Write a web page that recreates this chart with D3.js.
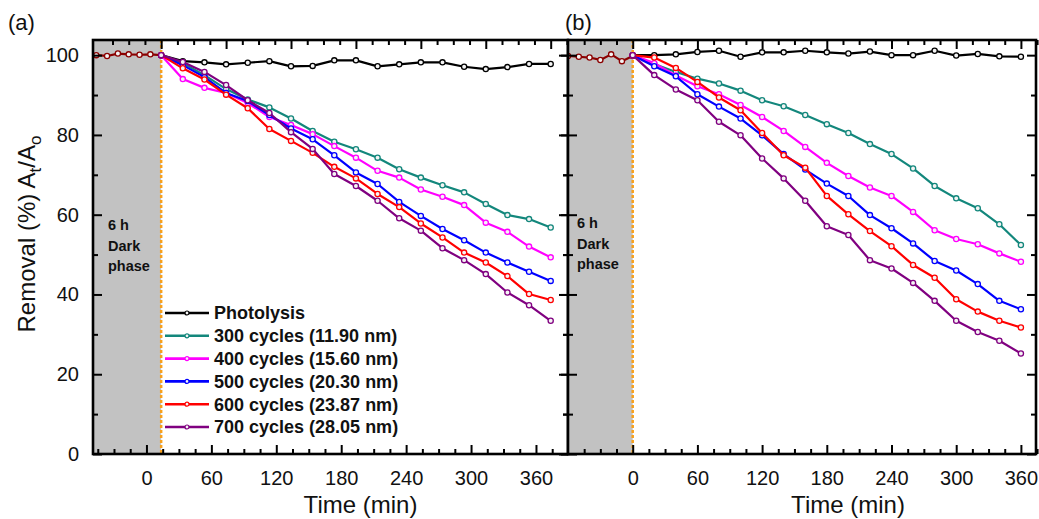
<!DOCTYPE html>
<html>
<head>
<meta charset="utf-8">
<script src="https://cdn.jsdelivr.net/npm/d3@7"></script>
<style>
  body { margin: 0; background: #fff; }
  svg { display: block; font-family: "Liberation Sans", Arial, sans-serif; }
</style>
</head>
<body>
<svg width="1039" height="519"></svg>
<script>
// time points (min)
const darkTime = [-60, -50, -40, -30, -20, -10, 0];
const lightTime = [0, 20, 40, 60, 80, 100, 120, 140, 160, 180, 200, 220, 240, 260, 280, 300, 320, 340, 360];
const xMajorTicks = [0, 60, 120, 180, 240, 300, 360];
const yMajorTicks = [0, 20, 40, 60, 80, 100];

const seriesNames = ["Photolysis", "300 cycles (11.90 nm)", "400 cycles (15.60 nm)",
  "500 cycles (20.30 nm)", "600 cycles (23.87 nm)", "700 cycles (28.05 nm)"];
const seriesColors = ["#000000", "#13877c", "#ff00ff", "#0000ff", "#ff0000", "#800080"];
const darkColor = "#8b0000";

// panel (a)
const darkA = [100, 99.8, 100.4, 100.2, 100.1, 100.2, 100];
const photolysisA = [100, 98.5, 98.2, 97.7, 98.1, 98.5, 97.2, 97.3, 98.7, 98.7, 97.2, 97.7, 98.2, 98.2, 97.1, 96.5, 97.0, 97.8, 97.8];
const c300A = [100, 98, 95, 91.5, 88.9, 86.9, 84.1, 81.0, 78.3, 76.4, 74.3, 71.4, 69.3, 67.4, 65.6, 62.7, 59.9, 58.9, 56.8];
const c400A = [100, 94.0, 91.8, 90.5, 88.0, 84.5, 82.5, 80.2, 77.2, 74.3, 71.0, 69.3, 66.3, 64.5, 62.4, 58.0, 55.7, 52.0, 49.3];
const c500A = [100, 97.5, 94.5, 90.5, 88.5, 85.0, 81.6, 78.9, 74.9, 70.6, 67.7, 63.2, 59.7, 56.4, 53.6, 50.5, 48.0, 45.7, 43.4];
const c600A = [100, 96.7, 93.9, 90.1, 86.7, 81.5, 78.5, 75.5, 72.0, 69.1, 65.2, 61.9, 57.8, 54.3, 50.5, 48.0, 44.6, 40.1, 38.6];
const c700A = [100, 98.3, 95.8, 92.5, 88.7, 85.5, 80.7, 76.5, 70.2, 67.2, 63.5, 59.1, 56.0, 51.6, 48.6, 45.1, 40.5, 37.3, 33.4];

// panel (b)
const darkB = [99.8, 99.6, 99.4, 98.8, 100.2, 98.5, 99.8];
const photolysisB = [100, 100, 100.2, 100.8, 101.1, 99.6, 100.7, 100.7, 101.1, 100.7, 100.4, 100.9, 100, 100, 101.1, 99.9, 100.3, 99.7, 99.6];
const c300B = [100, 97.8, 95.8, 94.1, 92.9, 91.1, 88.7, 87.2, 85.0, 82.7, 80.5, 77.7, 75.2, 71.6, 67.2, 64.1, 61.6, 57.6, 52.4];
const c400B = [100, 98, 94.9, 92.2, 90.2, 87.5, 84.5, 81.0, 77.0, 73.0, 69.7, 66.8, 64.7, 60.7, 56.1, 53.9, 52.6, 50.3, 48.2];
const c500B = [100, 97.2, 94.7, 90.2, 87.1, 84.1, 79.9, 75.2, 71.3, 67.8, 64.7, 59.9, 56.6, 52.8, 48.4, 46.0, 42.6, 38.4, 36.3];
const c600B = [100, 99.4, 96.8, 93.3, 89.4, 86.2, 80.5, 74.9, 71.8, 64.7, 60.1, 55.9, 52.1, 47.4, 44.2, 38.8, 35.7, 33.4, 31.7];
const c700B = [100, 95.0, 91.4, 88.7, 83.3, 79.9, 74.1, 69.1, 63.5, 57.1, 54.9, 48.6, 46.5, 42.9, 38.4, 33.4, 30.6, 28.4, 25.2];

const svg = d3.select("svg");
const plotTop = 40, plotBottom = 454;
const y = d3.scaleLinear().domain([0, 103.8]).range([plotBottom, plotTop]);

function drawPanel(p) {
  const x = d3.scaleLinear().domain(p.domain).range(p.range);
  // bottom labels of panel (a) sit a little left of the data scale
  const xb = x.copy().domain(p.domain.map(d => d + p.labelShift));
  const x0 = p.range[0], x1 = p.range[1];
  const h = plotBottom - plotTop;
  const g = svg.append("g");

  g.append("rect").attr("x", x0).attr("y", plotTop).attr("width", x1 - x0).attr("height", h)
    .attr("fill", "#fff");
  g.append("rect").attr("x", x0).attr("y", plotTop).attr("width", x(0) - x0).attr("height", h)
    .attr("fill", "#c2c2c2");
  g.append("line").attr("x1", x(0)).attr("x2", x(0)).attr("y1", plotTop).attr("y2", plotBottom)
    .attr("stroke", "#f7a01c").attr("stroke-width", 2.5).attr("stroke-dasharray", "3,2");

  g.append("text").attr("font-size", 14.5).attr("font-weight", "bold").attr("fill", "#111")
    .selectAll("tspan").data(["6 h", "Dark", "phase"]).join("tspan")
    .attr("x", x0 + p.darkTextDx).attr("y", (d, i) => p.darkTextY + i * 20.5).text(d => d);

  const clipId = "clip" + p.key;
  svg.append("clipPath").attr("id", clipId).append("rect")
    .attr("x", x0).attr("y", plotTop).attr("width", x1 - x0).attr("height", h);
  const plot = g.append("g").attr("clip-path", `url(#${clipId})`);
  const line = d3.line().x(d => x(d[0])).y(d => y(d[1]));

  const drawSeries = (times, vals, color) => {
    const pts = times.map((t, i) => [t, vals[i]]);
    plot.append("path").datum(pts).attr("d", line).attr("fill", "none")
      .attr("stroke", color).attr("stroke-width", 2.2).attr("stroke-linejoin", "round");
    plot.selectAll(null).data(pts).join("circle")
      .attr("cx", d => x(d[0])).attr("cy", d => y(d[1])).attr("r", 2.6)
      .attr("fill", "#f4f4f4").attr("stroke", color).attr("stroke-width", 1.3);
  };
  drawSeries(darkTime, p.dark, darkColor);
  p.series.forEach((s, i) => drawSeries(lightTime, s, seriesColors[i]));

  // axes
  const minor = d3.range(-60, 376, 15).filter(v => v % 60 !== 0);
  const yMinor = d3.range(10, 100, 20);
  const axisStyle = sel => {
    sel.select(".domain").remove();
    sel.selectAll("line").attr("stroke", "#000").attr("stroke-width", 2);
  };
  g.append("g").attr("transform", `translate(0,${plotBottom})`)
    .call(d3.axisBottom(xb).tickValues(xMajorTicks).tickSize(-9).tickPadding(17))
    .call(axisStyle)
    .call(a => a.selectAll("text").attr("font-size", 20).attr("fill", "#111"));
  g.append("g").attr("transform", `translate(0,${plotBottom})`)
    .call(d3.axisBottom(xb).tickValues(minor.filter(v => xb(v) > x0 + 2)).tickSize(-5).tickFormat(""))
    .call(axisStyle);
  g.append("g").attr("transform", `translate(0,${plotTop})`)
    .call(d3.axisTop(x).tickValues(xMajorTicks).tickSize(-9).tickFormat(""))
    .call(axisStyle);
  g.append("g").attr("transform", `translate(0,${plotTop})`)
    .call(d3.axisTop(x).tickValues(minor.filter(v => x(v) > x0 + 2)).tickSize(-5).tickFormat(""))
    .call(axisStyle);

  const leftMajor = d3.axisLeft(y).tickValues(yMajorTicks).tickSize(-9).tickPadding(14);
  if (!p.yLabels) leftMajor.tickFormat("");
  g.append("g").attr("transform", `translate(${x0},0)`).call(leftMajor)
    .call(axisStyle)
    .call(a => a.selectAll("text").attr("font-size", 20).attr("fill", "#111"));
  g.append("g").attr("transform", `translate(${x0},0)`)
    .call(d3.axisLeft(y).tickValues(yMinor).tickSize(-5).tickFormat("")).call(axisStyle);
  if (p.crossTicks) {
    g.append("g").attr("transform", `translate(${x0},0)`)
      .call(d3.axisLeft(y).tickValues(yMajorTicks).tickSize(7).tickFormat("")).call(axisStyle);
    g.append("g").attr("transform", `translate(${x0},0)`)
      .call(d3.axisLeft(y).tickValues(yMinor).tickSize(5).tickFormat("")).call(axisStyle);
  }
  g.append("g").attr("transform", `translate(${x1},0)`)
    .call(d3.axisRight(y).tickValues(yMajorTicks).tickSize(-9).tickFormat("")).call(axisStyle);
  g.append("g").attr("transform", `translate(${x1},0)`)
    .call(d3.axisRight(y).tickValues(yMinor).tickSize(-5).tickFormat("")).call(axisStyle);

  g.append("rect").attr("x", x0).attr("y", plotTop).attr("width", x1 - x0).attr("height", h)
    .attr("fill", "none").attr("stroke", "#000").attr("stroke-width", 2.6);

  g.append("text").attr("x", (x0 + x1) / 2 + p.titleDx).attr("y", 513)
    .attr("text-anchor", "middle").attr("font-size", 24).attr("fill", "#111").text("Time (min)");
  g.append("text").attr("x", x0 - 85 + p.panelDx).attr("y", 30)
    .attr("font-size", 22).attr("fill", "#111").text(p.id);

  if (p.legend) {
    const lg = g.append("g").attr("transform", "translate(165,313)");
    const row = lg.selectAll("g").data(seriesNames).join("g")
      .attr("transform", (d, i) => `translate(0,${i * 22.8})`);
    row.append("line").attr("x1", 0).attr("x2", 44)
      .attr("stroke", (d, i) => seriesColors[i]).attr("stroke-width", 2.6);
    row.append("circle").attr("cx", 22).attr("r", 2)
      .attr("fill", "#f4f4f4").attr("stroke", (d, i) => seriesColors[i]).attr("stroke-width", 1.2);
    row.append("text").attr("x", 49).attr("dy", "0.36em").attr("font-size", 18)
      .attr("font-weight", "bold").attr("fill", "#111").text(d => d);
  }
}

drawPanel({
  id: "(a)", key: "a", domain: [-63, 376], range: [93, 568], labelShift: 13.6,
  dark: darkA, series: [photolysisA, c300A, c400A, c500A, c600A, c700A],
  yLabels: true, legend: true, crossTicks: false,
  darkTextDx: 15, darkTextY: 230, titleDx: 30, panelDx: 0
});
drawPanel({
  id: "(b)", key: "b", domain: [-60, 374], range: [568, 1036], labelShift: 0,
  dark: darkB, series: [photolysisB, c300B, c400B, c500B, c600B, c700B],
  yLabels: false, legend: false, crossTicks: true,
  darkTextDx: 9, darkTextY: 228, titleDx: 46, panelDx: 82
});

// y axis title
const yt = svg.append("text").attr("transform", "translate(35,234) rotate(-90)")
  .attr("text-anchor", "middle").attr("font-size", 24).attr("fill", "#111");
yt.append("tspan").text("Removal (%) A");
yt.append("tspan").attr("font-size", 17).attr("dy", 6).text("t");
yt.append("tspan").attr("dy", -6).text("/A");
yt.append("tspan").attr("font-size", 17).attr("dy", 6).text("o");
</script>
</body>
</html>
